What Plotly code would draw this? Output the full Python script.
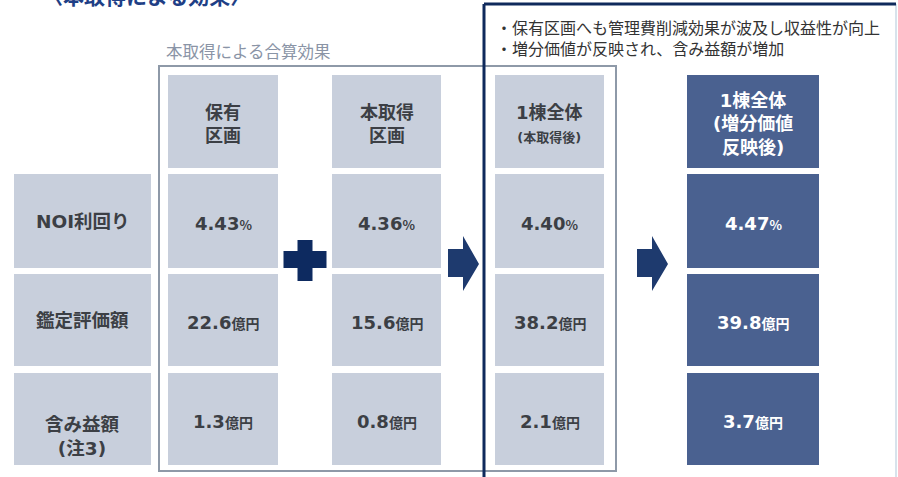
import plotly.graph_objects as go

# ---------------- data ----------------
row_labels = ["NOI利回り", "鑑定評価額", "含み益額<br>(注3)"]
col_headers = ["保有<br>区画", "本取得<br>区画",
               "1棟全体<br><span style='font-size:13px'>(本取得後)</span>",
               "1棟全体<br>(増分価値<br>反映後)"]
noi_yield = [4.43, 4.36, 4.40, 4.47]          # %
appraisal = [22.6, 15.6, 38.2, 39.8]          # 億円
unrealized = [1.3, 0.8, 2.1, 3.7]             # 億円
value_units = ["%", "億円", "億円"]
value_formats = ["{:.2f}", "{:.1f}", "{:.1f}"]
notes = ["・保有区画へも管理費削減効果が波及し収益性が向上",
         "・増分価値が反映され、含み益額が増加"]
group_label = "本取得による合算効果"
title_text = "〈本取得による効果〉"

# ---------------- layout constants ----------------
W, H = 898, 477
FONT = "Noto Sans CJK JP"
NUMFONT = "DejaVu Sans, Noto Sans CJK JP"
LIGHT = "#c8cfdc"
DARK = "#4a6190"
TXT = "#3c3f45"
NAVY = "#0f2a5c"

label_col = (14, 151)
cols = [(168, 278), (332, 441), (495, 604), (687, 819)]
rows = [(75, 168), (174, 268), (274, 366), (373, 465)]  # header + 3 data rows

fig = go.Figure()
shapes = []
annotations = []

def rect(x0, x1, y0, y1, color):
    shapes.append(dict(type="rect", xref="x", yref="y", x0=x0, x1=x1, y0=y0, y1=y1,
                       fillcolor=color, line=dict(width=0), layer="below"))

def text(x, y, s, size=16, color=TXT, bold=True, xanchor="center", yanchor="middle",
         family=FONT, align="center"):
    annotations.append(dict(x=x, y=y, xref="x", yref="y", text=(f"<b>{s}</b>" if bold else s),
                            showarrow=False, xanchor=xanchor, yanchor=yanchor, align=align,
                            font=dict(family=family, size=size, color=color)))

# group boxes
shapes.append(dict(type="rect", xref="x", yref="y", x0=159, x1=616, y0=66, y1=471,
                   line=dict(color="#8e99a8", width=2), fillcolor="rgba(0,0,0,0)"))
text(164, 51, group_label, size=16.5, color="#8a94a6", bold=False, xanchor="left")

shapes.append(dict(type="line", xref="x", yref="y", x0=896, x1=896, y0=4, y1=H,
                   line=dict(color="#d8e3ec", width=2)))
shapes.append(dict(type="line", xref="x", yref="y", x0=484, x1=896, y0=4, y1=4,
                   line=dict(color=NAVY, width=3)))
shapes.append(dict(type="line", xref="x", yref="y", x0=484, x1=484, y0=4, y1=H,
                   line=dict(color=NAVY, width=3)))
text(494, 37, "<br>".join(notes), size=16, color="#333333", bold=False,
     xanchor="left", align="left")

# title (cut at top of the picture)
annotations.append(dict(x=40 / W, y=1 + 5 / H, xref="paper", yref="paper",
                        text=f"<b>{title_text}</b>", showarrow=False,
                        xanchor="left", yanchor="middle",
                        font=dict(family=FONT, size=21, color="#1f3f86")))

# row labels
for r, lab in enumerate(row_labels):
    y0, y1 = rows[r + 1]
    rect(label_col[0], label_col[1], y0, y1, LIGHT)
    yc = (y0 + y1) / 2 + (17 if "<br>" in lab else 0)
    text((label_col[0] + label_col[1]) / 2, yc, lab, size=18.5, family=NUMFONT)

# headers
for c, hdr in enumerate(col_headers):
    x0, x1 = cols[c]
    y0, y1 = rows[0]
    dark = c == 3
    rect(x0, x1, y0, y1, DARK if dark else LIGHT)
    text((x0 + x1) / 2, (y0 + y1) / 2 + 2, hdr, size=18, color="white" if dark else TXT,
         family=NUMFONT)

# values
series = [noi_yield, appraisal, unrealized]
for r, vals in enumerate(series):
    y0, y1 = rows[r + 1]
    for c, v in enumerate(vals):
        x0, x1 = cols[c]
        dark = c == 3
        rect(x0, x1, y0, y1, DARK if dark else LIGHT)
        usize = 13 if value_units[r] == "%" else 14
        s = (f"<b>{value_formats[r].format(v)}</b>"
             f"<span style='font-size:{usize}px;font-family:Noto Sans CJK JP'>"
             f"<b>{value_units[r]}</b></span>")
        annotations.append(dict(x=(x0 + x1) / 2, y=(y0 + y1) / 2 + 2, xref="x", yref="y",
                                text=s, showarrow=False,
                                font=dict(family=NUMFONT, size=18,
                                          color="white" if dark else TXT)))

# plus sign
px0, px1 = cols[0][1], cols[1][0]
pc = (px0 + px1) / 2
shapes.append(dict(type="rect", xref="x", yref="y", x0=pc - 7.5, x1=pc + 7.5, y0=240, y1=281,
                   fillcolor="#0d2a60", line=dict(width=0)))
shapes.append(dict(type="rect", xref="x", yref="y", x0=pc - 21.5, x1=pc + 21.5, y0=251, y1=268,
                   fillcolor="#0d2a60", line=dict(width=0)))

# arrows
def arrow(xl, color):
    path = (f"M{xl},249 L{xl+15},249 L{xl+15},236 L{xl+31},264 "
            f"L{xl+15},291 L{xl+15},277 L{xl},277 Z")
    shapes.append(dict(type="path", xref="x", yref="y", path=path,
                       fillcolor=color, line=dict(width=0)))

arrow(448, "#1e3a6e")
arrow(637, "#1e3a6e")

fig.update_layout(
    width=W, height=H, margin=dict(l=0, r=0, t=0, b=0),
    paper_bgcolor="white", plot_bgcolor="white",
    xaxis=dict(range=[0, W], visible=False, fixedrange=True),
    yaxis=dict(range=[H, 0], visible=False, fixedrange=True),
    shapes=shapes, annotations=annotations, showlegend=False,
)
fig.write_html("out.html")
